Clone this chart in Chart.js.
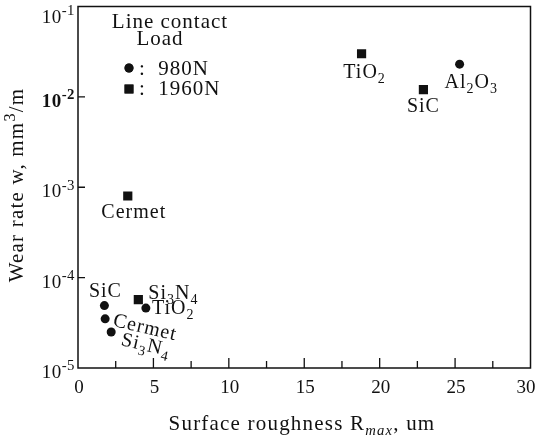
<!DOCTYPE html>
<html>
<head>
<meta charset="utf-8">
<script src="https://cdn.jsdelivr.net/npm/chart.js@4.4.0/dist/chart.umd.min.js"></script>
<style>
  html, body { margin: 0; padding: 0; background: #fff; }
  #wrap { width: 538px; height: 437px; }
</style>
</head>
<body>
<div id="wrap"><canvas id="chart" width="538" height="437"></canvas></div>
<script>
// ========== DATA ==========

// 980N load (circles)
const LOAD_980N_NAMES = ['SiC', 'Cermet', 'Si_3N_4', 'TiO_2', 'Al_2O_3'];
const LOAD_980N_RMAX = [1.75, 1.8, 2.2, 4.5, 25.3];
const LOAD_980N_WEAR = [4.9e-5, 3.5e-5, 2.5e-5, 4.6e-5, 2.3e-2];

// 1960N load (squares)
const LOAD_1960N_NAMES = ['Cermet', 'Si_3N_4', 'TiO_2', 'SiC'];
const LOAD_1960N_RMAX = [3.3, 4.0, 18.8, 22.9];
const LOAD_1960N_WEAR = [8.0e-4, 5.7e-5, 3.0e-2, 1.2e-2];

const X_TICKS = [0, 5, 10, 15, 20, 25, 30];
const X_MINOR_TICKS = [2.5, 7.5, 12.5, 17.5, 22.5, 27.5];
const Y_TICKS = [1e-5, 1e-4, 1e-3, 1e-2, 1e-1];
const Y_TICK_LABELS = ['10^{-5}', '10^{-4}', '10^{-3}', '10^{-2}', '10^{-1}'];

const X_TITLE = 'Surface roughness R_{max}, um';
const Y_TITLE = 'Wear rate w, mm^3/m';
const LEGEND_TITLE = ['Line contact', 'Load'];
const LEGEND_LABELS = [':  980N', ':  1960N'];

// label placement relative to each point (px)
const PLACE_980N = [
  { dx: 1, dy: -9, align: 'center', rot: 0 },
  { dx: 7, dy: 7, align: 'left', rot: 13 },
  { dx: 9, dy: 13, align: 'left', rot: 13 },
  { dx: 6, dy: 6, align: 'left', rot: 0 },
  { dx: -15, dy: 24, align: 'left', rot: 0 },
];
const PLACE_1960N = [
  { dx: 6, dy: 22, align: 'center', rot: 0 },
  { dx: 10, dy: -1, align: 'left', rot: 0 },
  { dx: 3, dy: 24, align: 'center', rot: 0 },
  { dx: 0, dy: 22, align: 'center', rot: 0 },
];

const FONT = "'Liberation Serif', 'DejaVu Serif', serif";
const INK = '#111';

// ========== RICH TEXT ==========

function parseRich(s) {
  const parts = [];
  const re = /([_^])\{([^}]*)\}|([_^])(.)|([^_^]+)/g;
  let m;
  while ((m = re.exec(s))) {
    if (m[1]) parts.push({ t: m[2], k: m[1] });
    else if (m[3]) parts.push({ t: m[4], k: m[3] });
    else parts.push({ t: m[5], k: '' });
  }
  return parts;
}

function drawRich(ctx, s, x, y, size, align, opts = {}) {
  const parts = parseRich(s);
  const fontFor = p => {
    const sz = p.k === '_' ? size * 0.7 : p.k === '^' ? size * 0.78 : size;
    const it = p.k === '_' && opts.italicSub ? 'italic ' : '';
    const b = opts.bold ? 'bold ' : '';
    return `${it}${b}${sz}px ${FONT}`;
  };
  ctx.letterSpacing = (opts.ls || 0) + 'px';
  let w = 0;
  parts.forEach(p => { ctx.font = fontFor(p); p.w = ctx.measureText(p.t).width; w += p.w; });
  let cx = align === 'center' ? x - w / 2 : align === 'right' ? x - w : x;
  ctx.textAlign = 'left';
  ctx.textBaseline = 'alphabetic';
  parts.forEach(p => {
    ctx.font = fontFor(p);
    const dy = p.k === '_' ? size * 0.26 : p.k === '^' ? -size * 0.4 : 0;
    ctx.fillText(p.t, cx, y + dy);
    cx += p.w;
  });
  ctx.letterSpacing = '0px';
}

// ========== DECORATION PLUGIN ==========

const paperPlugin = {
  id: 'paper',
  afterDraw(chart) {
    const { ctx, chartArea: a, scales } = chart;
    const xs = scales.x, ys = scales.y;
    ctx.save();
    ctx.fillStyle = INK;
    ctx.strokeStyle = INK;

    // frame
    ctx.lineWidth = 1.5;
    ctx.strokeRect(a.left, a.top, a.right - a.left, a.bottom - a.top);

    // inward ticks
    ctx.lineWidth = 1.3;
    ctx.beginPath();
    X_TICKS.slice(1, -1).forEach(v => {
      const px = xs.getPixelForValue(v);
      ctx.moveTo(px, a.bottom); ctx.lineTo(px, a.bottom - 10);
    });
    X_MINOR_TICKS.forEach(v => {
      const px = xs.getPixelForValue(v);
      ctx.moveTo(px, a.bottom); ctx.lineTo(px, a.bottom - 7);
    });
    Y_TICKS.slice(1, -1).forEach(v => {
      const py = ys.getPixelForValue(v);
      ctx.moveTo(a.left, py); ctx.lineTo(a.left + 7, py);
    });
    ctx.stroke();

    // x tick labels
    ctx.font = `19px ${FONT}`;
    ctx.textAlign = 'center';
    ctx.textBaseline = 'alphabetic';
    X_TICKS.forEach(v => ctx.fillText(String(v), Math.min(xs.getPixelForValue(v) + 1, 526), a.bottom + 25));

    // y tick labels
    Y_TICKS.forEach((v, i) => {
      const py = Math.max(ys.getPixelForValue(v) + 10, a.top + 16);
      drawRich(ctx, Y_TICK_LABELS[i], a.left - 3, py, 19, 'right', { bold: v === 1e-2, ls: 0.5 });
    });

    // axis titles
    drawRich(ctx, X_TITLE, 302, 430, 21, 'center', { italicSub: true, ls: 1.2 });
    ctx.save();
    ctx.translate(23, 185);
    ctx.rotate(-Math.PI / 2);
    drawRich(ctx, Y_TITLE, 0, 0, 21, 'center', { ls: 1.2 });
    ctx.restore();

    // point labels
    const labelSet = (dsIndex, names, place) => {
      const meta = chart.getDatasetMeta(dsIndex);
      meta.data.forEach((pt, i) => {
        const p = place[i];
        ctx.save();
        ctx.translate(pt.x + p.dx, pt.y + p.dy);
        ctx.rotate(p.rot * Math.PI / 180);
        drawRich(ctx, names[i], 0, 0, 20, p.align, { ls: 1 });
        ctx.restore();
      });
    };
    labelSet(0, LOAD_980N_NAMES, PLACE_980N);
    labelSet(1, LOAD_1960N_NAMES, PLACE_1960N);

    // legend block
    drawRich(ctx, LEGEND_TITLE[0], 170, 28, 21, 'center', { ls: 1 });
    drawRich(ctx, LEGEND_TITLE[1], 160, 45, 21, 'center', { ls: 1 });
    Chart.helpers.drawPoint(ctx, { pointStyle: 'circle', radius: 4.5, borderWidth: 0 }, 129, 68);
    ctx.fill();
    Chart.helpers.drawPoint(ctx, { pointStyle: 'rect', radius: 6.3, borderWidth: 0 }, 129, 89);
    ctx.fill();
    drawRich(ctx, LEGEND_LABELS[0], 139, 75, 21, 'left', { ls: 1 });
    drawRich(ctx, LEGEND_LABELS[1], 139, 95, 21, 'left', { ls: 1 });

    ctx.restore();
  }
};

// ========== CHART ==========

new Chart(document.getElementById('chart'), {
  type: 'scatter',
  data: {
    datasets: [
      {
        label: '980N',
        data: LOAD_980N_RMAX.map((x, i) => ({ x, y: LOAD_980N_WEAR[i] })),
        pointStyle: 'circle',
        pointRadius: 4.5,
        backgroundColor: INK,
        borderColor: INK,
        borderWidth: 0,
      },
      {
        label: '1960N',
        data: LOAD_1960N_RMAX.map((x, i) => ({ x, y: LOAD_1960N_WEAR[i] })),
        pointStyle: 'rect',
        pointRadius: 6.5,
        backgroundColor: INK,
        borderColor: INK,
        borderWidth: 0,
      },
    ]
  },
  options: {
    responsive: false,
    animation: false,
    layout: { padding: { left: 78, top: 5, right: 7.5, bottom: 69 } },
    plugins: { legend: { display: false }, tooltip: { enabled: false } },
    scales: {
      x: { type: 'linear', min: 0, max: 30, display: false },
      y: { type: 'logarithmic', min: 1e-5, max: 1e-1, display: false },
    }
  },
  plugins: [paperPlugin]
});
</script>
</body>
</html>
